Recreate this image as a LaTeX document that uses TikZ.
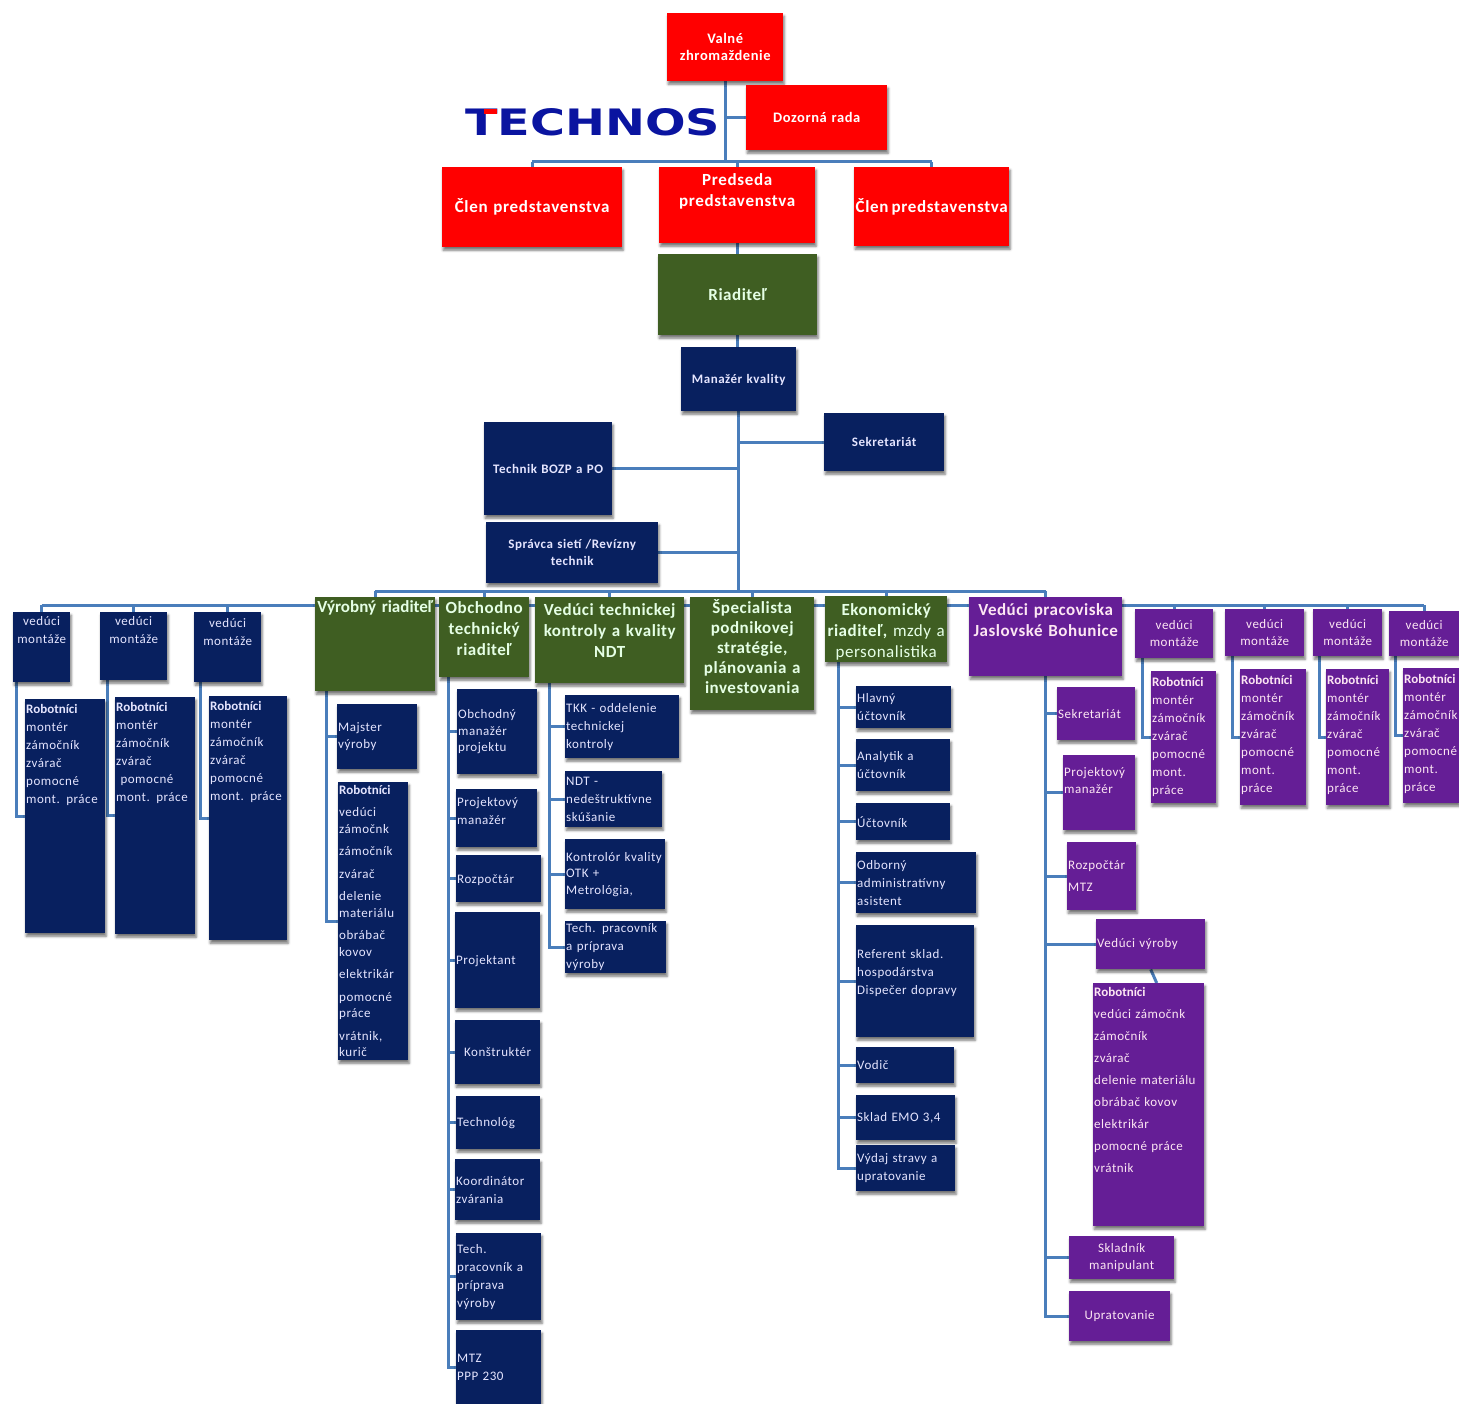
\documentclass[tikz,border=0pt]{standalone}
\usepackage{fontspec}
\usepackage{graphicx}
\setmainfont[LetterSpace=4,WordSpace=1.5]{Carlito}
\newfontfamily\headfont[LetterSpace=3,WordSpace=0.8]{Carlito}
\newfontfamily\plainfont{Carlito}
\newfontfamily\logofont{DejaVu Sans}
\usetikzlibrary{shadows.blur}
\definecolor{navyfill}{HTML}{08205F}
\definecolor{greenfill}{HTML}{3F5E22}
\definecolor{purplefill}{HTML}{651E96}
\definecolor{linkblue}{HTML}{4A7EBB}
\definecolor{logoblue}{HTML}{0A14A0}
\pgfdeclarelayer{back}
\pgfsetlayers{back,main}
\hyphenpenalty=10000
\exhyphenpenalty=10000
\newcommand{\lowpad}[1]{\par\vskip#1pt\hrule height 0pt\relax}
\newcommand{\robhead}{{\plainfont\bfseries Robotníci}}

\begin{document}
\begin{tikzpicture}[x=1pt,y=-1pt,
    span/.style n args={4}{at={(#1,#2)},minimum width=(#3-#1)*1pt,minimum height=(#4-#2)*1pt,text width=(#3-#1)*1pt-2pt},
    main node/.style={anchor=north west,inner xsep=1pt,inner ysep=0pt,align=left,blur shadow={shadow xshift=1pt,shadow yshift=-3pt,shadow blur radius=2.5pt,shadow opacity=55},font=\fontsize{13}{18}\selectfont},
    navy node/.style={main node,fill=navyfill,text=white!90!blue},
    purple node/.style={main node,fill=purplefill,text=white!90!magenta},
    green node/.style={main node,fill=greenfill,text=white!90!green,align=center,font=\fontsize{17}{21}\headfont\bfseries},
    red node/.style={main node,fill=red,text=white,align=center,font=\fontsize{17}{21}\selectfont\bfseries},
    mid/.style={align=center},
    tight/.style={font=\fontsize{13}{16.5}\selectfont},
    loose/.style={font=\fontsize{13}{22}\selectfont},
    strong/.style={font=\fontsize{13}{17}\selectfont\bfseries},
    large/.style={font=\fontsize{14.5}{17}\selectfont\bfseries},
    link/.style={draw=linkblue,line width=3pt}]
    \useasboundingbox (0,0) rectangle (1459,1404);

    \node[red node,large,span={667}{13}{783}{81}] (valne) {Valné\\zhromaždenie};
    \node[red node,large,span={746}{85}{887}{150}] (dozor) {Dozorná rada};
    \node[red node,span={442}{167}{622}{247}] (clenA) {Člen predstavenstva};
    \node[red node,span={659}{167}{815}{243}] (predseda) {Predseda\\predstavenstva\lowpad{28}};
    \node[red node,span={854}{167}{1009}{246}] (clenB) {Člen\kern3pt predstavenstva};
    \node[green node,span={658}{254}{817}{335}] (riaditel) {Riaditeľ\lowpad{-4}};
    \node[navy node,strong,mid,span={681}{347}{796}{411}] (kvalita) {Manažér kvality\lowpad{-4}};
    \node[navy node,strong,mid,span={824}{413}{944}{471}] (sekretA) {Sekretariát\lowpad{-2}};
    \node[navy node,strong,mid,span={484}{422}{612}{515}] (bozp) {Technik BOZP a PO\lowpad{-2}};
    \node[navy node,strong,mid,span={486}{522}{658}{583}] (spravca) {Správca sietí /Revízny\\technik};

    \node[anchor=north west,inner sep=0pt,text=logoblue] (logo) at (465,108) {\resizebox{255pt}{27pt}{\logofont\bfseries TECHNOS}};
    \fill[red] (484,109) rectangle (497,114);

    \node[green node,span={315}{597}{435}{691}] (vyrobny) {\mbox{\plainfont\bfseries Výrobný riaditeľ}\lowpad{72}};
    \node[green node,span={439}{597}{529}{677}] (obchodno) {Obchodno\\technický\\riaditeľ\lowpad{18}};
    \node[green node,span={535}{597}{684}{683}] (kontrola) {Vedúci technickej\\kontroly a kvality\\NDT\lowpad{20}};
    \node[green node,span={690}{597}{814}{710},font=\fontsize{17}{20}\headfont\bfseries] (strategia) {Špecialista\\podnikovej\\stratégie,\\plánovania a\\investovania\lowpad{15}};
    \node[green node,span={825}{596}{947}{662}] (ekonom) {Ekonomický\\riaditeľ, {\mdseries mzdy a\\personalistika}\lowpad{-6}};
    \node[purple node,span={969}{597}{1122}{676},align=center,font=\fontsize{17}{21}\headfont\bfseries] (jaslov) {Vedúci pracoviska\\Jaslovské Bohunice\lowpad{33}};

    \node[navy node,mid,span={13}{612}{70}{682}] (montA) {vedúci\\montáže\lowpad{34}};
    \node[navy node,mid,span={100}{612}{167}{680}] (montB) {vedúci\\montáže\lowpad{32}};
    \node[navy node,mid,span={194}{612}{261}{682}] (montC) {vedúci\\montáže\lowpad{31}};
    \node[navy node,span={25}{699}{105}{933}] (robA) {\robhead\\montér\\zámočník\\zvárač\\pomocné\\mont. práce\lowpad{122}};
    \node[navy node,span={115}{697}{195}{934}] (robB) {\robhead\\montér\\zámočník\\zvárač\\\ pomocné\\mont. práce\lowpad{126}};
    \node[navy node,span={209}{696}{287}{940}] (robC) {\robhead\\montér\\zámočník\\zvárač\\pomocné\\mont. práce\lowpad{132}};
    \node[navy node,tight,span={337}{704}{417}{769}] (majster) {Majster\\výroby};
    \node[navy node,tight,span={338}{782}{408}{1060}] (robV) {\robhead\\[6pt]vedúci\\zámočnk\\[6pt]zámočník\\[6pt]zvárač\\[6pt]delenie\\materiálu\\[6pt]obrábač\\kovov\\[6pt]elektrikár\\[6pt]pomocné\\práce\\[6pt]vrátnik,\\kurič};

    \node[navy node,tight,span={457}{689}{537}{774}] (manazerA) {Obchodný\\manažér\\projektu};
    \node[navy node,span={456}{789}{537}{847}] (manazerB) {Projektový\\manažér\lowpad{14}};
    \node[navy node,span={456}{855}{541}{902}] (rozpocet) {Rozpočtár\lowpad{-3}};
    \node[navy node,span={455}{912}{540}{1008}] (projektant) {Projektant\lowpad{-3}};
    \node[navy node,mid,span={455}{1020}{540}{1084}] (konstrukt) {Konštruktér};
    \node[navy node,span={456}{1096}{540}{1149}] (technolog) {Technológ};
    \node[navy node,span={455}{1159}{540}{1220}] (koordin) {Koordinátor\\zvárania};
    \node[navy node,span={456}{1233}{541}{1320}] (pracovA) {Tech.\\pracovník a\\príprava\\výroby};
    \node[navy node,span={456}{1330}{541}{1404}] (mtz) {MTZ\\PPP 230};

    \node[navy node,span={565}{695}{679}{758}] (tkk) {TKK - oddelenie\\technickej\\kontroly};
    \node[navy node,span={565}{771}{662}{827}] (ndt) {NDT -\\nedeštruktívne\\skúšanie};
    \node[navy node,tight,span={565}{839}{665}{909}] (otk) {Kontrolór kvality\\OTK +\\Metrológia,};
    \node[navy node,span={565}{921}{666}{973}] (pracovB) {Tech. pracovník\\a príprava\\výroby};

    \node[navy node,span={856}{686}{951}{728}] (hlavny) {Hlavný\\účtovník};
    \node[navy node,span={856}{739}{950}{791}] (analytik) {Analytik a\\účtovník};
    \node[navy node,span={856}{803}{950}{840}] (uctovnik) {Účtovník};
    \node[navy node,span={856}{852}{976}{913}] (odborny) {Odborný\\administratívny\\asistent};
    \node[navy node,span={856}{925}{974}{1037}] (referent) {Referent sklad.\\hospodárstva\\Dispečer dopravy\lowpad{17}};
    \node[navy node,span={856}{1047}{954}{1083}] (vodic) {Vodič};
    \node[navy node,span={856}{1095}{955}{1140}] (sklad) {Sklad EMO 3,4};
    \node[navy node,span={856}{1145}{955}{1191}] (vydaj) {Výdaj stravy a\\upratovanie};

    \node[purple node,span={1057}{687}{1135}{740}] (sekretB) {Sekretariát};
    \node[purple node,tight,span={1063}{755}{1135}{830}] (manazerC) {Projektový\\manažér\lowpad{24}};
    \node[purple node,loose,span={1067}{842}{1136}{910}] (rozpocetB) {Rozpočtár\\MTZ};
    \node[purple node,span={1096}{919}{1205}{969}] (veduci) {Vedúci výroby};
    \node[purple node,loose,span={1093}{983}{1204}{1226}] (robP) {\robhead\\vedúci zámočnk\\zámočník\\zvárač\\delenie materiálu\\obrábač kovov\\elektrikár\\pomocné práce\\vrátnik\lowpad{50}};
    \node[purple node,tight,mid,span={1069}{1236}{1174}{1279}] (skladnik) {Skladník\\manipulant};
    \node[purple node,mid,span={1069}{1291}{1170}{1341}] (upratov) {Upratovanie};

    \node[purple node,tight,mid,span={1135}{609}{1213}{658}] (montD) {vedúci\\montáže};
    \node[purple node,tight,mid,span={1225}{609}{1304}{656}] (montE) {vedúci\\montáže};
    \node[purple node,tight,mid,span={1313}{609}{1382}{656}] (montF) {vedúci\\montáže};
    \node[purple node,tight,mid,span={1389}{611}{1459}{656}] (montG) {vedúci\\montáže};
    \node[purple node,span={1151}{671}{1216}{803}] (robD) {\robhead\\montér\\zámočník\\zvárač\\pomocné\\mont.\\práce\lowpad{1}};
    \node[purple node,span={1240}{669}{1306}{805}] (robE) {\robhead\\montér\\zámočník\\zvárač\\pomocné\\mont.\\práce\lowpad{5}};
    \node[purple node,span={1326}{669}{1389}{805}] (robF) {\robhead\\montér\\zámočník\\zvárač\\pomocné\\mont.\\práce\lowpad{5}};
    \node[purple node,span={1403}{668}{1459}{803}] (robG) {\robhead\\montér\\zámočník\\zvárač\\pomocné\\mont.\\práce\lowpad{4}};

    \coordinate (barA) at (0,162);
    \coordinate (barB) at (0,591);
    \coordinate (barC) at (0,605);

    \begin{pgfonlayer}{back}
        \path[link]
            (valne.south) edge (valne.south |- barA)
            (dozor.west) edge (dozor.west -| valne.south)
            (clenA.north |- barA) edge (clenB.north |- barA)
            (clenA.north) edge (clenA.north |- barA)
            (clenB.north) edge (clenB.north |- barA)
            (predseda.north) edge (predseda.north |- barA)
            (predseda.south) edge (predseda.south |- riaditel.north)
            (riaditel.south) edge (riaditel.south |- kvalita.north)
            (kvalita.south) edge (kvalita.south |- barB)
            (sekretA.west) edge (sekretA.west -| kvalita.south)
            (bozp.east) edge (bozp.east -| kvalita.south)
            (spravca.east) edge (spravca.east -| kvalita.south)
            (vyrobny.north |- barB) edge (jaslov.north |- barB)
            (montA.north |- barC) edge (montG.north |- barC)
            (veduci.south) edge ([xshift=8pt]robP.north)
        ;
        \foreach \head in {vyrobny,obchodno,kontrola,strategia,ekonom,jaslov}
            \draw[link] (\head.north) -- (\head.north |- barB);
        \foreach \head in {montA,montB,montC,montD,montE,montF,montG}
            \draw[link] (\head.north) -- (\head.north |- barC);
        \draw[link] ([xshift=3pt]montA.south west) |- (robA.west);
        \draw[link] ([xshift=7pt]montB.south west) |- (robB.west);
        \draw[link] ([xshift=6pt]montC.south west) |- (robC.west);
        \draw[link] ([xshift=7pt]montD.south west) |- (robD.west);
        \draw[link] ([xshift=7pt]montE.south west) |- (robE.west);
        \draw[link] ([xshift=6pt]montF.south west) |- (robF.west);
        \draw[link] ([xshift=6pt]montG.south west) |- (robG.west);
        \foreach \kid in {majster,robV}
            \draw[link] ([xshift=11pt]vyrobny.south west) |- (\kid.west);
        \foreach \kid in {manazerA,manazerB,rozpocet,projektant,konstrukt,technolog,koordin,pracovA,mtz}
            \draw[link] ([xshift=9pt]obchodno.south west) |- (\kid.west);
        \foreach \kid in {tkk,ndt,otk,pracovB}
            \draw[link] ([xshift=14pt]kontrola.south west) |- (\kid.west);
        \foreach \kid in {hlavny,analytik,uctovnik,odborny,referent,vodic,sklad,vydaj}
            \draw[link] ([xshift=13pt]ekonom.south west) |- (\kid.west);
        \foreach \kid in {sekretB,manazerC,rozpocetB,veduci,skladnik,upratov}
            \draw[link] (jaslov.south) |- (\kid.west);
    \end{pgfonlayer}
\end{tikzpicture}
\end{document}
